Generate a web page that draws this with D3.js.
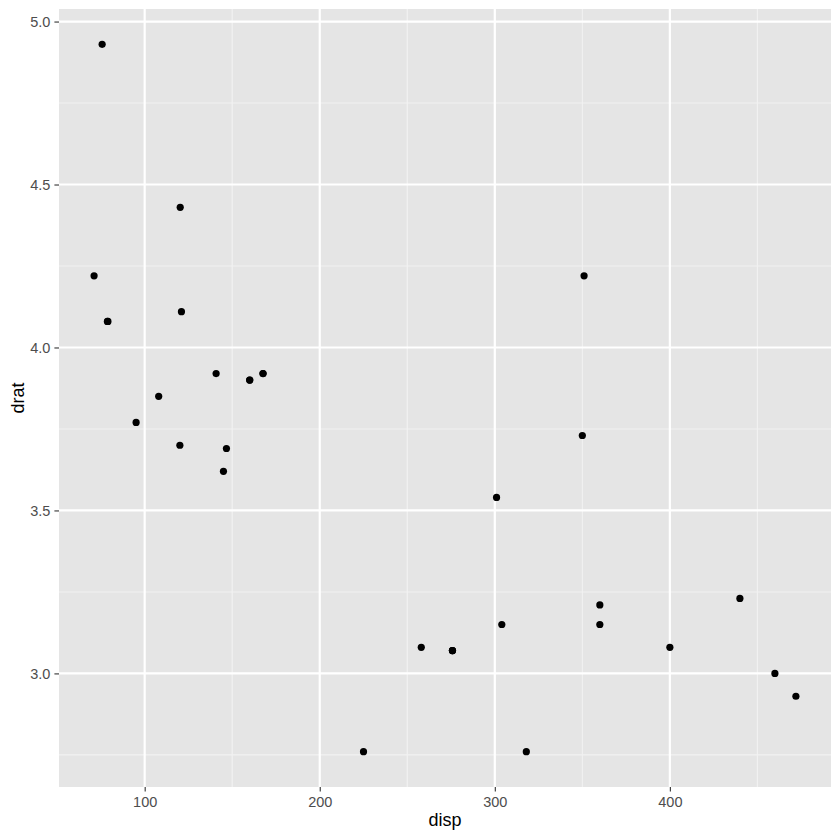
<!DOCTYPE html>
<html>
<head>
  <meta charset="UTF-8">
  <title>disp vs drat</title>
  <style>
    body { margin: 0; background: #fff; }
    .tick text { font-family: "Liberation Sans", Arial, sans-serif; font-size: 14.5px; fill: #4d4d4d; }
    .title { font-family: "Liberation Sans", Arial, sans-serif; font-size: 18px; fill: #000; }
  </style>
</head>
<body>
<svg></svg>
<script src="https://d3js.org/d3.v7.min.js"></script>
<script>
// mtcars: disp and drat
const disp = [160, 160, 108, 258, 360, 225, 360, 146.7, 140.8, 167.6, 167.6, 275.8, 275.8, 275.8,
              472, 460, 440, 78.7, 75.7, 71.1, 120.1, 318, 304, 350, 400, 79, 120.3, 95.1, 351, 145, 301, 121];
const drat = [3.90, 3.90, 3.85, 3.08, 3.15, 2.76, 3.21, 3.69, 3.92, 3.92, 3.92, 3.07, 3.07, 3.07,
              2.93, 3.00, 3.23, 4.08, 4.93, 4.22, 3.70, 2.76, 3.15, 3.73, 3.08, 4.08, 4.43, 3.77, 4.22, 3.62, 3.54, 4.11];
const xTicks = [100, 200, 300, 400];
const yTicks = [3.0, 3.5, 4.0, 4.5, 5.0];
const xMinor = [50, 150, 250, 350, 450];
const yMinor = [2.75, 3.25, 3.75, 4.25, 4.75];

const width = 840, height = 840;
const mLeft = 59, mRight = 831, mTop = 9, mBottom = 787;

const svg = d3.select("svg").attr("width", width).attr("height", height);

// ggplot-style 5% expansion
const xr = d3.extent(disp), yr = d3.extent(drat);
const xp = (xr[1] - xr[0]) * 0.05, yp = (yr[1] - yr[0]) * 0.05;
const x = d3.scaleLinear().domain([xr[0] - xp, xr[1] + xp]).range([mLeft, mRight]);
const y = d3.scaleLinear().domain([yr[0] - yp, yr[1] + yp]).range([mBottom, mTop]);

svg.append("rect")
    .attr("x", mLeft).attr("y", mTop)
    .attr("width", mRight - mLeft).attr("height", mBottom - mTop)
    .attr("fill", "#e5e5e5");

const grid = svg.append("g");
grid.selectAll(".xmin").data(xMinor.filter(d => x(d) > mLeft && x(d) < mRight)).enter().append("line")
    .attr("x1", d => x(d)).attr("x2", d => x(d)).attr("y1", mTop).attr("y2", mBottom)
    .attr("stroke", "#f2f2f2").attr("stroke-width", 1.1);
grid.selectAll(".ymin").data(yMinor).enter().append("line")
    .attr("y1", d => y(d)).attr("y2", d => y(d)).attr("x1", mLeft).attr("x2", mRight)
    .attr("stroke", "#f2f2f2").attr("stroke-width", 1.1);
grid.selectAll(".xmaj").data(xTicks).enter().append("line")
    .attr("x1", d => x(d)).attr("x2", d => x(d)).attr("y1", mTop).attr("y2", mBottom)
    .attr("stroke", "#fff").attr("stroke-width", 2.2);
grid.selectAll(".ymaj").data(yTicks).enter().append("line")
    .attr("y1", d => y(d)).attr("y2", d => y(d)).attr("x1", mLeft).attr("x2", mRight)
    .attr("stroke", "#fff").attr("stroke-width", 2.2);

// axes
const xAxis = svg.append("g")
    .attr("transform", "translate(0," + mBottom + ")")
    .call(d3.axisBottom(x).tickValues(xTicks).tickSize(4.6).tickPadding(5.5));
const yAxis = svg.append("g")
    .attr("transform", "translate(" + mLeft + ",0)")
    .call(d3.axisLeft(y).tickValues(yTicks).tickFormat(d3.format(".1f")).tickSize(4.6).tickPadding(4));
[xAxis, yAxis].forEach(a => {
  a.select(".domain").remove();
  a.selectAll(".tick line").attr("stroke", "#333").attr("stroke-width", 1.1);
});

// points
svg.append("g").selectAll("circle")
    .data(disp.map((d, i) => [d, drat[i]]))
    .enter().append("circle")
    .attr("cx", d => x(d[0]))
    .attr("cy", d => y(d[1]))
    .attr("r", 3.6)
    .attr("fill", "#000");

// titles
svg.append("text").attr("class", "title")
    .attr("x", (mLeft + mRight) / 2).attr("y", 826)
    .attr("text-anchor", "middle").text("disp");
svg.append("text").attr("class", "title")
    .attr("transform", "translate(24," + (mTop + mBottom) / 2 + ") rotate(-90)")
    .attr("text-anchor", "middle").text("drat");
</script>
</body>
</html>
